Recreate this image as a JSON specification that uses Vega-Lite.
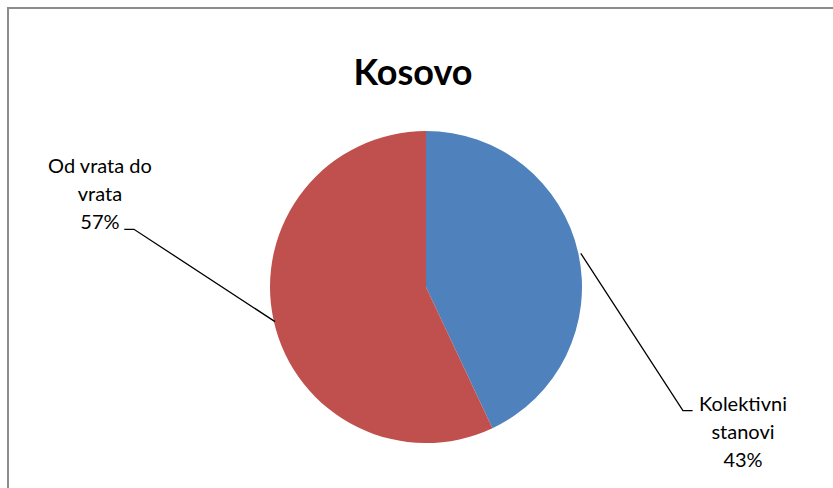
{
  "$schema": "https://vega.github.io/schema/vega-lite/v6.json",
  "width": 830,
  "height": 485,
  "autosize": {"type": "none"},
  "padding": {"left": 8, "top": 8, "right": 0, "bottom": 0},
  "background": "white",
  "config": {"view": {"stroke": "#8c8c8c", "strokeWidth": 2}, "font": "Lato"},
  "title": {
    "text": "Kosovo",
    "font": "Lato",
    "fontSize": 36,
    "fontWeight": "bold",
    "color": "black",
    "anchor": "middle",
    "frame": "group",
    "baseline": "alphabetic",
    "offset": -113,
    "dx": -10
  },
  "datasets": {
    "slices": [
      {"category": "Kolektivni stanovi", "share": 43, "ord": 1},
      {"category": "Od vrata do vrata", "share": 57, "ord": 2}
    ],
    "leaders": [
      {"id": "k", "seq": 1, "x": 0.992, "y": 0.216},
      {"id": "k", "seq": 2, "x": 1.647, "y": -0.793},
      {"id": "k", "seq": 3, "x": 1.709, "y": -0.793},
      {"id": "o", "seq": 1, "x": -0.968, "y": -0.222},
      {"id": "o", "seq": 2, "x": -1.872, "y": 0.370},
      {"id": "o", "seq": 3, "x": -1.934, "y": 0.370}
    ],
    "labels": [
      {"label": "Od vrata do\nvrata\n57%", "x": -2.090, "y": 0.731},
      {"label": "Kolektivni\nstanovi\n43%", "x": 2.032, "y": -0.793}
    ]
  },
  "layer": [
    {
      "data": {"name": "slices"},
      "mark": {"type": "arc", "outerRadius": 156, "strokeWidth": 0},
      "encoding": {
        "theta": {"field": "share", "type": "quantitative", "stack": true},
        "order": {"field": "ord", "type": "quantitative"},
        "color": {
          "field": "category",
          "type": "nominal",
          "scale": {"domain": ["Kolektivni stanovi", "Od vrata do vrata"], "range": ["#4F81BD", "#C0504D"]},
          "legend": null
        },
        "x": {"datum": 0, "type": "quantitative", "scale": {"domain": [-2.6795, 2.6410], "nice": false, "zero": false}, "axis": null},
        "y": {"datum": 0, "type": "quantitative", "scale": {"domain": [-1.3205, 1.7885], "nice": false, "zero": false}, "axis": null}
      }
    },
    {
      "data": {"name": "leaders"},
      "mark": {"type": "line", "color": "black", "strokeWidth": 1.3},
      "encoding": {
        "x": {"field": "x", "type": "quantitative"},
        "y": {"field": "y", "type": "quantitative"},
        "detail": {"field": "id"},
        "order": {"field": "seq", "type": "quantitative"}
      }
    },
    {
      "data": {"name": "labels"},
      "mark": {"type": "text", "align": "center", "baseline": "alphabetic", "fontSize": 20, "lineHeight": 28, "lineBreak": "\n", "color": "black", "font": "Lato"},
      "encoding": {
        "x": {"field": "x", "type": "quantitative"},
        "y": {"field": "y", "type": "quantitative"},
        "text": {"field": "label"}
      }
    }
  ]
}
